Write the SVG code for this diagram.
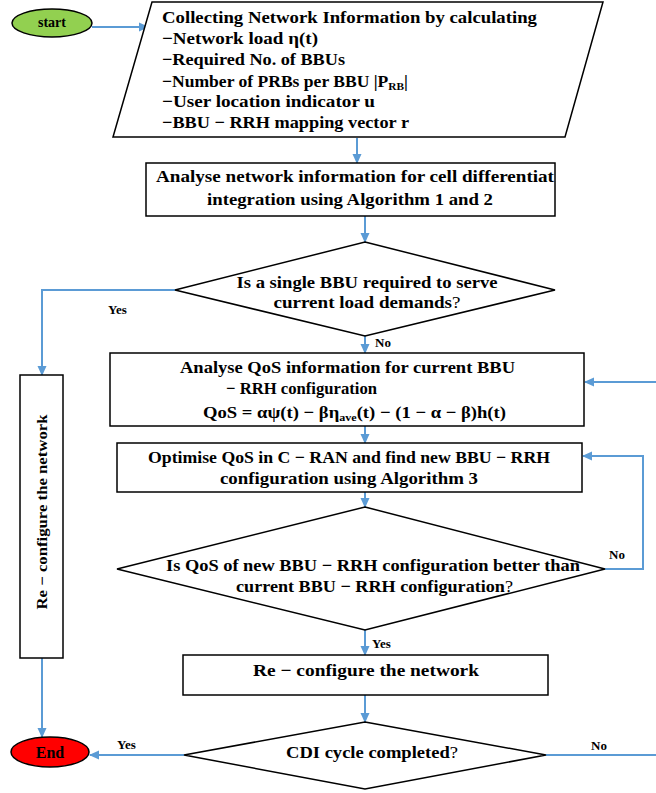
<svg xmlns="http://www.w3.org/2000/svg" width="656" height="793" viewBox="0 0 656 793">
<style>
.t{font-family:"Liberation Serif","DejaVu Serif",serif;font-weight:bold;font-size:17px;fill:#000}
.c{text-anchor:middle}
.s{font-size:11px}
.n{font-weight:normal}
.lbl{font-family:"Liberation Serif","DejaVu Serif",serif;font-weight:bold;font-size:13px;fill:#000}
.box{fill:#fff;stroke:#000;stroke-width:1.5}
.ln{fill:none;stroke:#5b9bd5;stroke-width:2}
</style>
<defs>
<marker id="ah" markerUnits="userSpaceOnUse" markerWidth="10" markerHeight="10" viewBox="0 0 10 10" refX="9" refY="5" orient="auto">
<path d="M0,0.5 L10,5 L0,9.5 Z" fill="#5b9bd5"/>
</marker>
</defs>
<rect width="656" height="793" fill="#fff"/>

<g id="connectors">
<path class="ln" d="M92,27 H148" marker-end="url(#ah)"/>
<path class="ln" d="M357,138 V163" marker-end="url(#ah)"/>
<path class="ln" d="M365,216 V242" marker-end="url(#ah)"/>
<path class="ln" d="M175,290 H42 V375" marker-end="url(#ah)"/>
<path class="ln" d="M365,336 V353" marker-end="url(#ah)"/>
<path class="ln" d="M656,382 H585" marker-end="url(#ah)"/>
<path class="ln" d="M365,426 V443" marker-end="url(#ah)"/>
<path class="ln" d="M365,492 V507" marker-end="url(#ah)"/>
<path class="ln" d="M605,569 H643 V456 H583" marker-end="url(#ah)"/>
<path class="ln" d="M365,630 V655" marker-end="url(#ah)"/>
<path class="ln" d="M365,695 V722" marker-end="url(#ah)"/>
<path class="ln" d="M184,755 H90" marker-end="url(#ah)"/>
<path class="ln" d="M546,755 H656"/>
<path class="ln" d="M42,658 V737" marker-end="url(#ah)"/>
<text class="lbl" x="108" y="314">Yes</text>
<text class="lbl" x="375" y="347">No</text>
<text class="lbl" x="609" y="559">No</text>
<text class="lbl" x="372" y="648">Yes</text>
<text class="lbl" x="117" y="749">Yes</text>
<text class="lbl" x="591" y="750">No</text>
</g>

<g id="start">
<ellipse cx="52" cy="23" rx="40" ry="14" fill="#92d050" stroke="#000" stroke-width="1.5"/>
<text class="t c" x="52" y="27" style="font-size:14px">start</text>
</g>

<g id="collect">
<polygon class="box" points="152,2 603,2 565,137 113,137"/>
<text class="t" x="162" y="23" textLength="375" lengthAdjust="spacingAndGlyphs">Collecting Network Information by calculating</text>
<text class="t" x="162" y="44" textLength="156" lengthAdjust="spacingAndGlyphs">−Network load η(t)</text>
<text class="t" x="162" y="65" textLength="183" lengthAdjust="spacingAndGlyphs">−Required No. of BBUs</text>
<text class="t" x="162" y="87" textLength="246" lengthAdjust="spacingAndGlyphs">−Number of PRBs per BBU |P<tspan class="s" dy="3">RB</tspan><tspan dy="-3">|</tspan></text>
<text class="t" x="162" y="107" textLength="213" lengthAdjust="spacingAndGlyphs">−User location indicator u</text>
<text class="t" x="162" y="128" textLength="247" lengthAdjust="spacingAndGlyphs">−BBU − RRH mapping vector r</text>
</g>

<g id="analyse-network">
<rect class="box" x="146" y="163" width="409" height="53"/>
<text class="t" x="156" y="182" textLength="398" lengthAdjust="spacingAndGlyphs">Analyse network information for cell differentiat</text>
<text class="t c" x="350" y="205" textLength="286" lengthAdjust="spacingAndGlyphs">integration using Algorithm 1 and 2</text>
</g>

<g id="single-bbu">
<polygon class="box" points="365,242 555,290 365,336 175,290"/>
<text class="t c" x="367" y="288" textLength="261" lengthAdjust="spacingAndGlyphs">Is a single BBU required to serve</text>
<text class="t c" x="367" y="308" textLength="187" lengthAdjust="spacingAndGlyphs">current load demands<tspan class="n">?</tspan></text>
</g>

<g id="reconfig-left">
<rect class="box" x="20" y="375" width="43" height="283"/>
<text class="t c" transform="translate(47,512) rotate(-90)" style="font-size:15px" textLength="195" lengthAdjust="spacingAndGlyphs">Re − configure the network</text>
</g>

<g id="analyse-qos">
<rect class="box" x="110" y="353" width="474" height="73"/>
<text class="t" x="180" y="373" textLength="335" lengthAdjust="spacingAndGlyphs">Analyse QoS information for current BBU</text>
<text class="t" x="226" y="394" textLength="151" lengthAdjust="spacingAndGlyphs">− RRH configuration</text>
<text class="t" x="203" y="418" textLength="303" lengthAdjust="spacingAndGlyphs">QoS = αψ(t) − βη<tspan class="s" dy="3">ave</tspan><tspan dy="-3">(t) − (1 − α − β)h(t)</tspan></text>
</g>

<g id="optimise">
<rect class="box" x="117" y="443" width="465" height="49"/>
<text class="t" x="148" y="463" textLength="402" lengthAdjust="spacingAndGlyphs">Optimise QoS in C − RAN and find new BBU − RRH</text>
<text class="t" x="220" y="484" textLength="258" lengthAdjust="spacingAndGlyphs">configuration using Algorithm 3</text>
</g>

<g id="better">
<polygon class="box" points="365,507 605,569 365,630 117,569"/>
<text class="t" x="166" y="571" textLength="414" lengthAdjust="spacingAndGlyphs">Is QoS of new BBU − RRH configuration better than</text>
<text class="t" x="236" y="592" textLength="277" lengthAdjust="spacingAndGlyphs">current BBU − RRH configuration<tspan class="n">?</tspan></text>
</g>

<g id="reconfig">
<rect class="box" x="183" y="655" width="365" height="40"/>
<text class="t c" x="366" y="676" textLength="226" lengthAdjust="spacingAndGlyphs">Re − configure the network</text>
</g>

<g id="cdi">
<polygon class="box" points="365,722 546,755 365,789 184,755"/>
<text class="t c" x="372" y="758" textLength="172" lengthAdjust="spacingAndGlyphs">CDI cycle completed<tspan class="n">?</tspan></text>
</g>

<g id="end">
<ellipse cx="50" cy="752" rx="39" ry="15" fill="#ff0000" stroke="#000" stroke-width="1.5"/>
<text class="t c" x="50" y="758" style="font-size:16px">End</text>
</g>
</svg>
